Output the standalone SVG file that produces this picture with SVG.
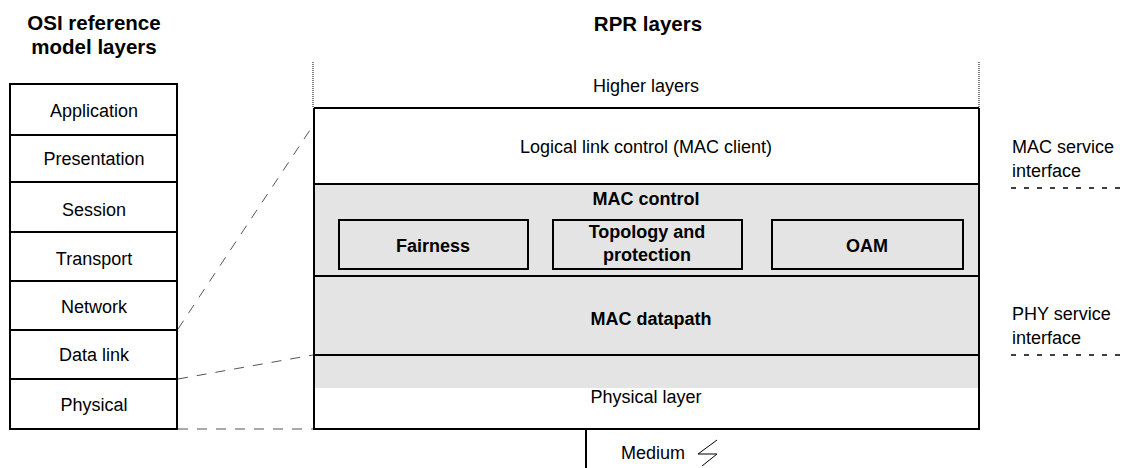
<svg xmlns="http://www.w3.org/2000/svg" width="1125" height="468" viewBox="0 0 1125 468">
  <style>
    text { font-family: "Liberation Sans", Arial, sans-serif; fill: #000; }
    .t { font-size: 18px; text-anchor: middle; }
    .b { font-weight: bold; }
    .h { font-size: 20.5px; font-weight: bold; text-anchor: middle; }
    .l { font-size: 18px; }
    .box { fill: none; stroke: #000; stroke-width: 2; }
    .sep { stroke: #000; stroke-width: 2; fill: none; }
    .lead { stroke: #555; stroke-width: 1; fill: none; stroke-dasharray: 10 9; }
    .dot { stroke: #555; stroke-width: 1.5; fill: none; stroke-dasharray: 1 1; }
    .iface { stroke: #000; stroke-width: 1.5; fill: none; stroke-dasharray: 5 8; }
  </style>

  <!-- column headings -->
  <g id="headings">
    <text class="h" x="94" y="30">OSI reference</text>
    <text class="h" x="94" y="54">model layers</text>
    <text class="h" x="648" y="31">RPR layers</text>
  </g>

  <!-- OSI seven-layer stack -->
  <g id="osi">
    <rect class="box" x="10" y="84" width="167" height="345"/>
    <path class="sep" d="M10 135H177M10 182H177M10 232H177M10 281H177M10 330H177M10 379H177"/>
    <text class="t" x="94" y="117">Application</text>
    <text class="t" x="94" y="165">Presentation</text>
    <text class="t" x="94" y="216">Session</text>
    <text class="t" x="94" y="265">Transport</text>
    <text class="t" x="94" y="313">Network</text>
    <text class="t" x="94" y="361">Data link</text>
    <text class="t" x="94" y="411">Physical</text>
  </g>

  <!-- RPR layer stack -->
  <g id="rpr-shading">
    <rect x="314" y="184" width="665" height="204" fill="#e4e4e4"/>
  </g>
  <g id="higher-layers">
    <path class="dot" d="M313 62V108M979 62V108"/>
    <text class="t" x="646" y="92">Higher layers</text>
  </g>
  <g id="llc">
    <text class="t" x="646" y="153">Logical link control (MAC client)</text>
  </g>
  <g id="mac-control">
    <text class="t b" x="646" y="205">MAC control</text>
  </g>
  <g id="fairness">
    <rect class="box" x="339" y="220" width="189" height="49"/>
    <text class="t b" x="433" y="252">Fairness</text>
  </g>
  <g id="topology">
    <rect class="box" x="553" y="220" width="189" height="49"/>
    <text class="t b" x="647" y="238">Topology and</text>
    <text class="t b" x="647" y="261">protection</text>
  </g>
  <g id="oam">
    <rect class="box" x="772" y="220" width="191" height="49"/>
    <text class="t b" x="867" y="252">OAM</text>
  </g>
  <g id="mac-datapath">
    <text class="t b" x="651" y="325">MAC datapath</text>
  </g>
  <g id="physical-layer">
    <text class="t" x="646" y="403">Physical layer</text>
  </g>
  <g id="rpr-frame">
    <path class="sep" d="M314 108H979M314 184H979M314 276H979M314 355H979"/>
    <path class="sep" d="M314 108V429H979V108"/>
  </g>
  <g id="medium">
    <path class="sep" d="M586 429V468"/>
    <text class="t" x="653" y="459">Medium</text>
    <path d="M717 440L698 454H717L702 466" fill="none" stroke="#000" stroke-width="1"/>
  </g>

  <!-- service interface labels -->
  <g id="mac-service-interface">
    <text class="l" x="1012" y="153">MAC service</text>
    <text class="l" x="1012" y="177">interface</text>
    <path class="iface" d="M1011 188H1120"/>
  </g>
  <g id="phy-service-interface">
    <text class="l" x="1012" y="320">PHY service</text>
    <text class="l" x="1012" y="344">interface</text>
    <path class="iface" d="M1011 355H1120"/>
  </g>

  <!-- correspondence lines between the two stacks -->
  <g id="connectors">
    <path class="lead" d="M178 329L310 130"/>
    <path class="lead" d="M178 379L313 355"/>
    <path class="lead" d="M178 429H313" stroke-dasharray="7 9"/>
  </g>
</svg>
